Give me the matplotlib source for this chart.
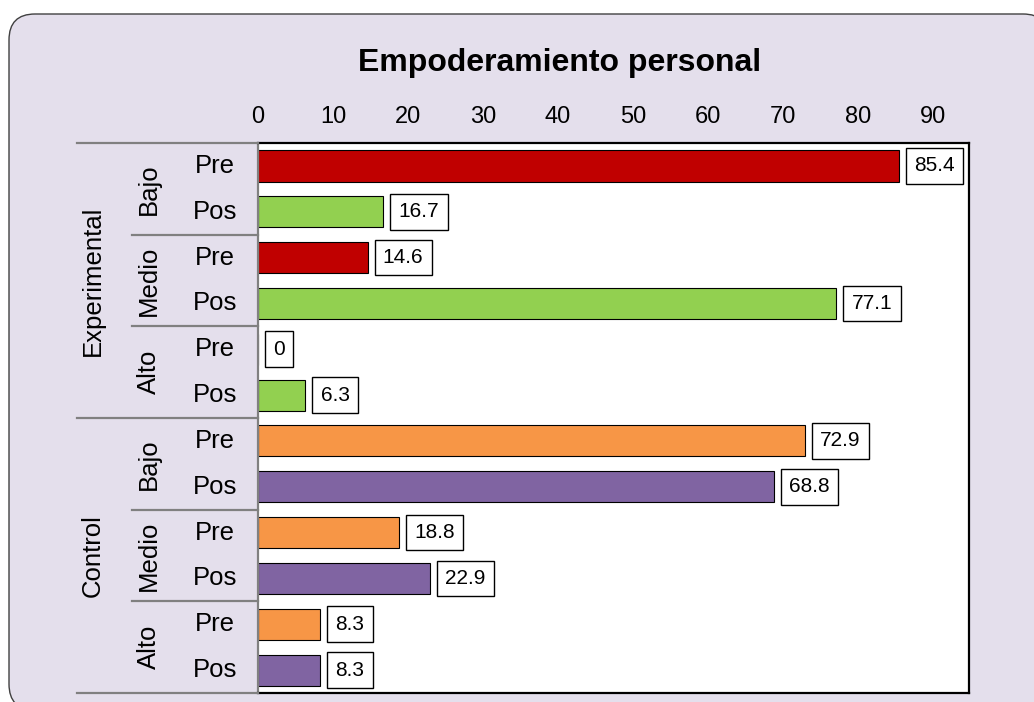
import matplotlib
matplotlib.use("Agg")
import matplotlib.pyplot as plt
from matplotlib.patches import FancyBboxPatch
from matplotlib.lines import Line2D
from matplotlib.transforms import IdentityTransform

plt.rcParams["font.family"] = ["Liberation Sans", "DejaVu Sans"]

# Data
title = "Empoderamiento personal"
groups = ["Experimental", "Control"]
levels = ["Bajo", "Medio", "Alto"]
phases = ["Pre", "Pos"]
exp_pre = [85.4, 14.6, 0]
exp_pos = [16.7, 77.1, 6.3]
ctl_pre = [72.9, 18.8, 8.3]
ctl_pos = [68.8, 22.9, 8.3]
x_ticks = [0, 10, 20, 30, 40, 50, 60, 70, 80, 90]

colors = {
    ("Experimental", "Pre"): "#C00000",
    ("Experimental", "Pos"): "#92D050",
    ("Control", "Pre"): "#F79646",
    ("Control", "Pos"): "#8064A2",
}
series = {
    ("Experimental", "Pre"): exp_pre,
    ("Experimental", "Pos"): exp_pos,
    ("Control", "Pre"): ctl_pre,
    ("Control", "Pos"): ctl_pos,
}

W, H = 1034, 702
fig = plt.figure(figsize=(W / 100, H / 100), dpi=100)
fig.patch.set_facecolor("white")

# Rounded background panel (pixel coordinates)
panel = FancyBboxPatch((9, H - 710), 1040, 696,
                       boxstyle="round,pad=0,rounding_size=26",
                       transform=IdentityTransform(),
                       facecolor="#E4DFEC", edgecolor="#404040", linewidth=1.0,
                       zorder=0)
fig.add_artist(panel)

ax_l, ax_r, ax_t, ax_b = 258, 969, 143, 693
ax = fig.add_axes([ax_l / W, 1 - ax_b / H, (ax_r - ax_l) / W, (ax_b - ax_t) / H])
ax.set_facecolor("white")

rows = []
for g in groups:
    for lv_i, lv in enumerate(levels):
        for ph in phases:
            rows.append((g, lv_i, ph))

label_fs = 15
label_pad = 0.4
pad_px = label_pad * label_fs * 100 / 72
for i, (g, lv_i, ph) in enumerate(rows):
    v = series[(g, ph)][lv_i]
    ax.barh(i + 0.5, v, height=0.68, color=colors[(g, ph)],
            edgecolor="black", linewidth=0.8, zorder=2)
    ax.annotate(f"{v:g}", xy=(v, i + 0.5), xytext=(7 + pad_px, 0),
                textcoords="offset pixels", ha="left", va="center",
                fontsize=label_fs, color="black",
                bbox=dict(boxstyle=f"square,pad={label_pad}", facecolor="white",
                          edgecolor="black", linewidth=1.0), zorder=3)

ax.set_xlim(0, 94.8)
ax.set_ylim(len(rows), 0)
ax.set_xticks(x_ticks)
ax.set_xticklabels([str(t) for t in x_ticks])
ax.xaxis.tick_top()
ax.tick_params(axis="x", length=0, pad=11, labelsize=17)
ax.set_yticks([])
for s in ["top", "right", "bottom"]:
    ax.spines[s].set_color("black")
    ax.spines[s].set_linewidth(1.6)
ax.spines["left"].set_color("#808080")
ax.spines["left"].set_linewidth(1.6)

# Title
fig.text(560 / W, 1 - 63 / H, title, ha="center", va="center",
         fontsize=23, fontweight="bold")

# Hierarchical category labels and separators
row_h = (ax_b - ax_t) / len(rows)

def fy(py):
    return 1 - py / H

cat_fs = 18.5
for i, (g, lv_i, ph) in enumerate(rows):
    cy = ax_t + (i + 0.5) * row_h
    fig.text(215 / W, fy(cy), ph, ha="center", va="center", fontsize=cat_fs)

for gi, g in enumerate(groups):
    for lv_i, lv in enumerate(levels):
        start = gi * 6 + lv_i * 2
        cy = ax_t + (start + 1) * row_h
        fig.text(149 / W, fy(cy), lv, ha="center", va="center",
                 rotation=90, fontsize=cat_fs)
    cy = ax_t + (gi * 6 + 3) * row_h
    fig.text(93 / W, fy(cy), g, ha="center", va="center",
             rotation=90, fontsize=cat_fs)

for b in range(0, len(rows) + 1, 2):
    py = ax_t + b * row_h
    x0 = 77 if b % 6 == 0 else 132
    fig.add_artist(Line2D([x0 / W, ax_l / W], [fy(py), fy(py)],
                          transform=fig.transFigure, color="#808080",
                          linewidth=1.6))

fig.savefig("out.png", dpi=100)
